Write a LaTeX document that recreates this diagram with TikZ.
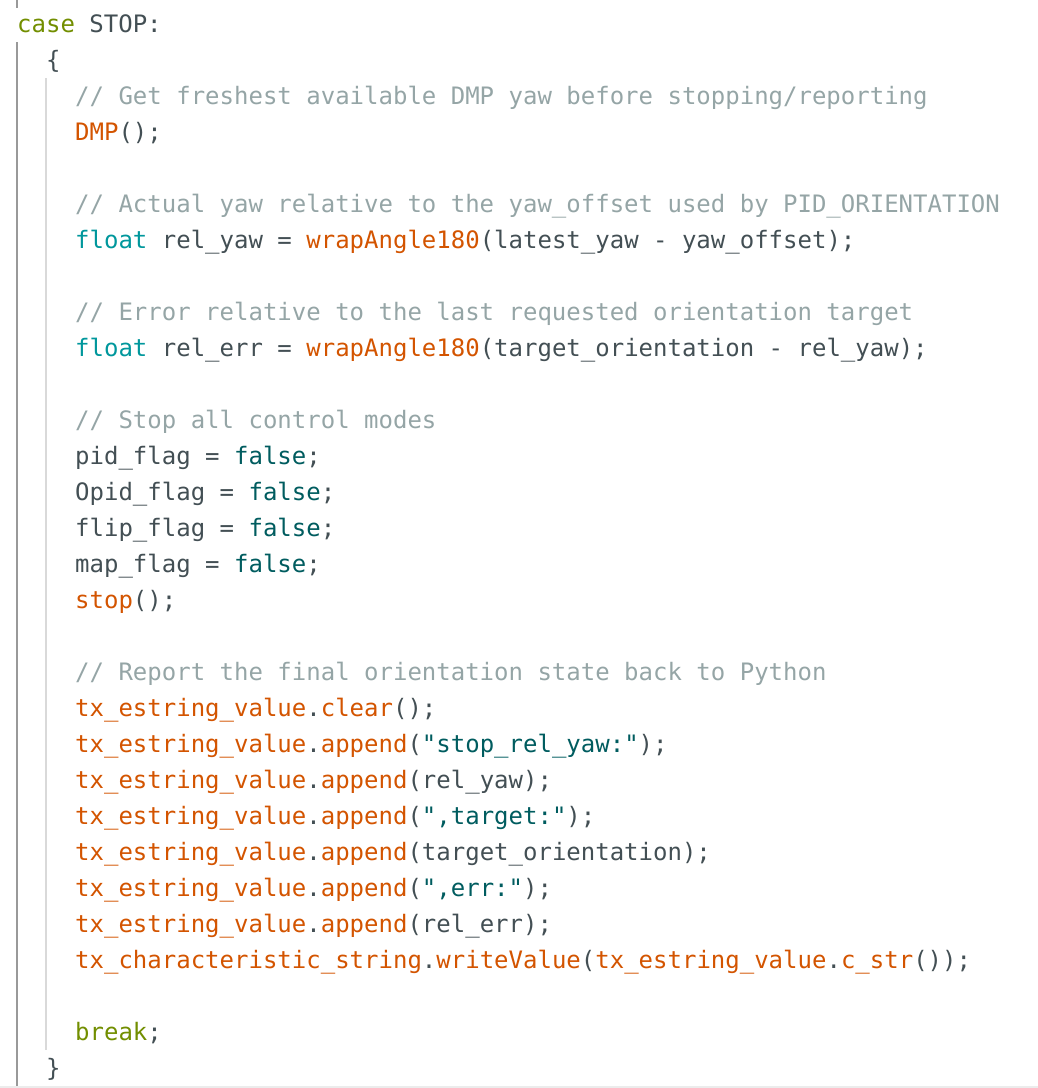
\documentclass[tikz,border=0pt]{standalone}
\usepackage{fontspec}
\newfontfamily\code{DejaVu Sans Mono}
\definecolor{kw}{HTML}{728E00}
\definecolor{fn}{HTML}{D35400}
\definecolor{ty}{HTML}{00979C}
\definecolor{lit}{HTML}{005C5F}
\definecolor{cm}{HTML}{95A5A6}
\definecolor{tx}{HTML}{434F54}
\newcommand{\K}[1]{\textcolor{kw}{#1}}
\newcommand{\Fn}[1]{\textcolor{fn}{#1}}
\newcommand{\Ty}[1]{\textcolor{ty}{#1}}
\newcommand{\Li}[1]{\textcolor{lit}{#1}}
\newcommand{\Cm}[1]{\textcolor{cm}{#1}}
\tikzset{codeline/.style={anchor=base west,inner sep=0pt,text=tx,font=\code\fontsize{24}{24}\selectfont}}
\begin{document}
\begin{tikzpicture}[x=1pt,y=-1pt]
\useasboundingbox (0,0) rectangle (1038,1088);
\draw[line width=2pt,color=gray!80] (17,0) -- (17,8);
\draw[line width=2pt,color=gray!80] (17,42) -- (17,1088);
\draw[line width=2pt,color=gray!30] (46,78) -- (46,1050);
\draw[line width=2pt,color=gray!15] (0,1087) -- (1038,1087);
\node[codeline] (l1) at (17,32) {\K{case} STOP:};
\node[codeline] (l2) at (46,68) {\{};
\node[codeline] (l3) at (75,104) {\Cm{// Get freshest available DMP yaw before stopping/reporting}};
\node[codeline] (l4) at (75,140) {\Fn{DMP}();};
\node[codeline] (l6) at (75,212) {\Cm{// Actual yaw relative to the yaw\_offset used by PID\_ORIENTATION}};
\node[codeline] (l7) at (75,248) {\Ty{float} rel\_yaw = \Fn{wrapAngle180}(latest\_yaw - yaw\_offset);};
\node[codeline] (l9) at (75,320) {\Cm{// Error relative to the last requested orientation target}};
\node[codeline] (l10) at (75,356) {\Ty{float} rel\_err = \Fn{wrapAngle180}(target\_orientation - rel\_yaw);};
\node[codeline] (l12) at (75,428) {\Cm{// Stop all control modes}};
\node[codeline] (l13) at (75,464) {pid\_flag = \Li{false};};
\node[codeline] (l14) at (75,500) {Opid\_flag = \Li{false};};
\node[codeline] (l15) at (75,536) {flip\_flag = \Li{false};};
\node[codeline] (l16) at (75,572) {map\_flag = \Li{false};};
\node[codeline] (l17) at (75,608) {\Fn{stop}();};
\node[codeline] (l19) at (75,680) {\Cm{// Report the final orientation state back to Python}};
\node[codeline] (l20) at (75,716) {\Fn{tx\_estring\_value}.\Fn{clear}();};
\node[codeline] (l21) at (75,752) {\Fn{tx\_estring\_value}.\Fn{append}(\Li{"stop\_rel\_yaw:"});};
\node[codeline] (l22) at (75,788) {\Fn{tx\_estring\_value}.\Fn{append}(rel\_yaw);};
\node[codeline] (l23) at (75,824) {\Fn{tx\_estring\_value}.\Fn{append}(\Li{",target:"});};
\node[codeline] (l24) at (75,860) {\Fn{tx\_estring\_value}.\Fn{append}(target\_orientation);};
\node[codeline] (l25) at (75,896) {\Fn{tx\_estring\_value}.\Fn{append}(\Li{",err:"});};
\node[codeline] (l26) at (75,932) {\Fn{tx\_estring\_value}.\Fn{append}(rel\_err);};
\node[codeline] (l27) at (75,968) {\Fn{tx\_characteristic\_string}.\Fn{writeValue}(\Fn{tx\_estring\_value}.\Fn{c\_str}());};
\node[codeline] (l29) at (75,1040) {\K{break};};
\node[codeline] (l30) at (46,1076) {\}};
\end{tikzpicture}
\end{document}
